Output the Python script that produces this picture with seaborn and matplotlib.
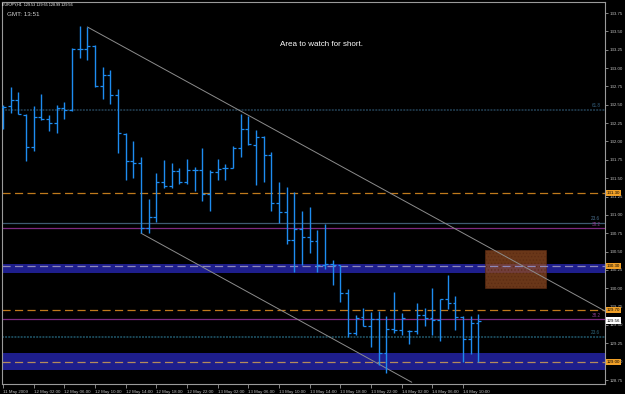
import matplotlib
matplotlib.use("Agg")
import matplotlib.pyplot as plt
import matplotlib.transforms as mtransforms
from matplotlib.patches import Rectangle
import numpy as np
import pandas as pd
import seaborn as sns

# ---------------- data (EURJPY H1) ----------------
opens = [132.47, 132.48, 132.57, 132.36, 131.92, 132.33, 132.31, 132.25, 132.46, 132.43,
         133.26, 133.26, 133.30, 132.76, 132.91, 132.63, 132.10, 131.73, 131.71, 130.82,
         130.97, 131.45, 131.39, 131.60, 131.45, 131.61, 131.61, 131.28, 131.58, 131.64,
         131.64, 131.91, 132.17, 131.95, 132.06, 131.82, 131.16, 131.04, 130.66, 130.81,
         130.70, 130.64, 130.32, 130.33, 130.32, 129.94, 129.39, 129.61, 129.49, 129.58,
         129.12, 129.45, 129.43, 129.42, 129.42, 129.64, 129.59, 129.57, 129.85, 129.80,
         129.61, 129.31, 129.53]
highs = [132.50, 132.74, 132.67, 132.37, 132.48, 132.65, 132.36, 132.50, 132.54, 133.27,
         133.57, 133.56, 133.31, 133.01, 132.97, 132.71, 132.11, 132.01, 131.79, 131.22,
         131.57, 131.75, 131.71, 131.64, 131.76, 131.65, 131.91, 131.61, 131.76, 131.69,
         131.94, 132.37, 132.35, 132.16, 132.07, 131.86, 131.45, 131.38, 131.31, 131.05,
         131.11, 130.79, 130.87, 130.39, 130.32, 129.99, 129.64, 129.73, 129.68, 129.69,
         129.62, 129.95, 129.66, 129.43, 129.80, 129.73, 130.00, 129.86, 130.18, 129.90,
         129.62, 129.62, 129.65]
lows = [132.17, 132.39, 132.37, 131.73, 131.87, 132.29, 132.14, 132.12, 132.31, 132.42,
        133.14, 133.11, 132.74, 132.58, 132.51, 131.84, 131.48, 131.50, 130.75, 130.75,
        130.90, 131.37, 131.37, 131.42, 131.42, 131.33, 131.19, 131.05, 131.48, 131.48,
        131.64, 131.79, 131.95, 131.41, 131.45, 131.05, 130.89, 130.60, 130.22, 130.32,
        130.48, 130.22, 130.26, 130.04, 129.81, 129.34, 129.36, 129.49, 129.20, 128.95,
        128.85, 129.39, 129.36, 129.24, 129.38, 129.49, 129.36, 129.28, 129.72, 129.43,
        129.00, 129.10, 128.99]
closes = [132.47, 132.57, 132.37, 131.92, 132.33, 132.31, 132.25, 132.46, 132.43, 133.26,
          133.26, 133.30, 132.76, 132.91, 132.63, 132.11, 131.73, 131.71, 130.82, 130.97,
          131.45, 131.39, 131.60, 131.45, 131.61, 131.61, 131.28, 131.58, 131.63, 131.64,
          131.91, 132.17, 131.97, 132.06, 131.82, 131.16, 131.04, 130.66, 130.81, 130.70,
          130.64, 130.32, 130.33, 130.32, 129.94, 129.39, 129.59, 129.49, 129.58, 129.12,
          129.45, 129.43, 129.59, 129.42, 129.64, 129.59, 129.57, 129.85, 129.80, 129.61,
          129.31, 129.53, 129.56]

time_labels = ["11 May 2009", "12 May 02:00", "12 May 06:00", "12 May 10:00", "12 May 14:00",
               "12 May 18:00", "12 May 22:00", "13 May 02:00", "13 May 06:00", "13 May 10:00",
               "13 May 14:00", "13 May 18:00", "13 May 22:00", "14 May 02:00", "14 May 06:00",
               "14 May 10:00"]
label_bars = [0, 4, 8, 12, 16, 20, 24, 28, 32, 36, 40, 44, 48, 52, 56, 60]

price_ticks = [128.75, 129.00, 129.25, 129.50, 129.75, 130.00, 130.25, 130.50, 130.75, 131.00,
               131.25, 131.50, 131.75, 132.00, 132.25, 132.50, 132.75, 133.00, 133.25, 133.50,
               133.75]

# channel trend lines (bar index, price)
upper_x = [11, 78.5]
upper_y = [133.56, 129.69]
lower_x = [18, 53.3]
lower_y = [130.75, 128.72]

fib_levels = [132.43, 130.89, 130.82, 129.58, 129.34]
fib_labels = ["61.8", "23.6", "38.2", "38.2", "23.6"]
fib_colors = ["#1c3444", "#3e5a72", "#7e2a80", "#7e2a80", "#1a4656"]
fib_text_colors = ["#34607e", "#4a6e8c", "#8a3a8c", "#8a3a8c", "#2e6478"]
fib_styles = ["dotted", "solid", "solid", "solid", "dotted"]

orange_levels = [131.30, 129.70]
bands = [(130.21, 130.33), (128.886, 129.118)]
band_lines = [130.30, 129.00]
band_line_colors = ["#8e88b8", "#b48a5c"]

price_boxes = [131.30, 130.30, 129.70, 129.00]
last_price = 129.56

watch_box = (62.84, 130.00, 7.96, 0.52)   # x, y, width, height

# ---------------- style ----------------
sns.set_theme(style="dark")
plt.rcParams['font.family'] = ['Liberation Sans', 'DejaVu Sans']
plt.rcParams['hatch.linewidth'] = 0.6

df = pd.DataFrame({"bar": np.arange(len(opens)), "open": opens, "high": highs,
                   "low": lows, "close": closes})

fig = plt.figure(figsize=(6.25, 3.94), dpi=100, facecolor="black")
ax = fig.add_axes([2 / 625, 10 / 394, 603 / 625, 382 / 394])
ax.set_facecolor("black")
ax.grid(False)
ax.set_xlim(-0.13, 78.5)
ax.set_ylim(128.696, 133.90)

# bands
for lo, hi in bands:
    ax.axhspan(lo, hi, color="#1e1e8c", lw=0, zorder=1)

# watch area box
rx, ry, rw, rh = watch_box
ax.add_patch(Rectangle((rx, ry), rw, rh, facecolor="#8e4a22", edgecolor="#5a2a12",
                       hatch=".....", lw=0.6, alpha=0.75, zorder=1.5))

for lvl, c in zip(band_lines, band_line_colors):
    ax.axhline(lvl, color=c, lw=0.9, dashes=(6.5, 3.5), zorder=2)
for lvl in orange_levels:
    ax.axhline(lvl, color="#c07a1c", lw=0.9, dashes=(6.5, 3.5), zorder=2)

for lvl, lab, c, tc, s in zip(fib_levels, fib_labels, fib_colors, fib_text_colors, fib_styles):
    if s == "dotted":
        ax.axhline(lvl, color=c, lw=1.4, linestyle=(0, (1, 0.6)), zorder=2)
    else:
        ax.axhline(lvl, color=c, lw=0.9, zorder=2)
    ax.text(77.9, lvl + 0.02, lab, color=tc, fontsize=3.3, ha="right", va="bottom", zorder=3)

# channel lines
sns.lineplot(x=upper_x, y=upper_y, ax=ax, color="#8c8c8c", lw=0.7, zorder=2.5)
sns.lineplot(x=lower_x, y=lower_y, ax=ax, color="#8c8c8c", lw=0.7, zorder=2.5)

# OHLC bars
bar_color = "#1e8cf0"
ax.vlines(df["bar"], df["low"], df["high"], color=bar_color, lw=1.0, zorder=4)
ax.hlines(df["open"], df["bar"] - 0.38, df["bar"], color=bar_color, lw=0.9, zorder=4)
ax.hlines(df["close"], df["bar"], df["bar"] + 0.38, color=bar_color, lw=0.9, zorder=4)

# axes styling
for sp in ax.spines.values():
    sp.set_color("#9a9a9a")
    sp.set_linewidth(0.8)
    sp.set_visible(True)

ax.yaxis.tick_right()
ax.set_yticks(price_ticks)
ax.set_yticklabels([f"{p:.2f}" for p in price_ticks])
ax.tick_params(axis="y", colors="#9a9a9a", labelcolor="#c0c0c0", labelsize=3.2,
               length=2, width=0.6, pad=1.5, direction="out", right=True, left=False)
ax.set_xticks(label_bars)
ax.set_xticklabels(time_labels, ha="left")
ax.tick_params(axis="x", colors="#9a9a9a", labelcolor="#c0c0c0", labelsize=3.2,
               length=3, width=0.6, pad=1, direction="out", bottom=True)
ax.set_xlabel("")
ax.set_ylabel("")

# right price boxes
trans = mtransforms.blended_transform_factory(ax.transAxes, ax.transData)
for p in price_boxes:
    ax.text(1.003, p, f"{p:.2f}", transform=trans, fontsize=3.2, ha="left", va="center",
            color="black", zorder=6, clip_on=False,
            bbox=dict(boxstyle="square,pad=0.25", fc="#f0a028", ec="none"))
ax.text(1.003, last_price, f"{last_price:.2f}", transform=trans, fontsize=3.2, ha="left",
        va="center", color="black", zorder=6, clip_on=False,
        bbox=dict(boxstyle="square,pad=0.25", fc="white", ec="none"))

# texts
ax.text((280 - 2) / 603, (384 - 45) / 382, "Area to watch for short.", transform=ax.transAxes,
        color="white", fontsize=5.8, ha="left", va="center")
fig.text(2 / 625, 1 - 5 / 394, "EURJPY,H1  129.53 129.65 128.99 129.56", color="white",
         fontsize=2.7, ha="left", va="center")
fig.text(7 / 625, 1 - 15 / 394, "GMT: 13:51", color="#d0d0d0", fontsize=4.5,
         ha="left", va="center")

fig.savefig("out.png", dpi=100, facecolor="black")
